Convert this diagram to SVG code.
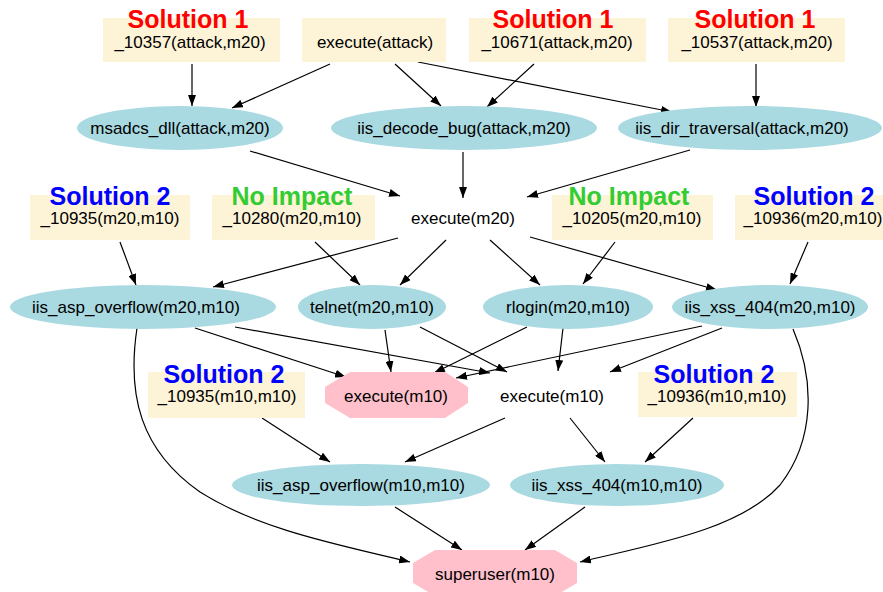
<svg xmlns="http://www.w3.org/2000/svg" width="883" height="592" viewBox="0 0 883 592">
<style>
text{font-family:"Liberation Sans",Arial,sans-serif;font-size:17px;fill:#000;text-anchor:middle}
.lbl{font-size:25px;font-weight:bold}
.red{fill:#ff0000}.blue{fill:#0000ff}.green{fill:#33cc33}
.box{fill:#fdf3d6;stroke:none}
.ell{fill:#a9d9e1;stroke:none}
.oct{fill:#ffc0cb;stroke:none}
.e{fill:none;stroke:#000;stroke-width:1.2;marker-end:url(#ah)}
</style>
<defs>
<marker id="ah" markerUnits="userSpaceOnUse" markerWidth="11" markerHeight="8" refX="11" refY="4" orient="auto">
<path d="M0,0 L11,4 L0,8 z" fill="#000"/>
</marker>
</defs>
<rect width="883" height="592" fill="#fff"/>
<g id="edges">
<path class="e" d="M192,64 L192,106"/>
<path class="e" d="M330,64 L232,108"/>
<path class="e" d="M395,64 L441,106"/>
<path class="e" d="M418,62 L672,112"/>
<path class="e" d="M534,64 L487,107"/>
<path class="e" d="M756,64 L756,107"/>
<path class="e" d="M250,151 L400,196"/>
<path class="e" d="M463,152 L463,198"/>
<path class="e" d="M690,150 L527,197"/>
<path class="e" d="M120,242 L136,285"/>
<path class="e" d="M398,238 L213,287"/>
<path class="e" d="M315,242 L360,285"/>
<path class="e" d="M446,240 L400,285"/>
<path class="e" d="M490,240 L540,285"/>
<path class="e" d="M615,242 L583,284"/>
<path class="e" d="M530,237 L717,290"/>
<path class="e" d="M808,242 L790,284"/>
<path class="e" d="M195,328 L346,377"/>
<path class="e" d="M235,327 L490,373"/>
<path class="e" d="M385,330 L391,372"/>
<path class="e" d="M420,327 L507,372"/>
<path class="e" d="M527,327 L434,373"/>
<path class="e" d="M563,328 L558,371"/>
<path class="e" d="M702,326 L456,378"/>
<path class="e" d="M722,328 L610,372"/>
<path class="e" d="M137,328 C127,395 140,450 200,492 C260,530 340,545 410,562"/>
<path class="e" d="M793,329 C815,380 815,440 780,485 C740,530 650,545 580,562"/>
<path class="e" d="M262,418 L330,462"/>
<path class="e" d="M505,418 L405,462"/>
<path class="e" d="M570,418 L605,462"/>
<path class="e" d="M693,418 L645,462"/>
<path class="e" d="M395,507 L462,550"/>
<path class="e" d="M585,507 L525,550"/>
</g>
<g id="n10357"><rect class="box" x="103" y="18" width="177" height="44"/><text x="190" y="48">_10357(attack,m20)</text></g>
<g id="execute_attack"><rect class="box" x="302" y="18" width="144" height="44"/><text x="375" y="48">execute(attack)</text></g>
<g id="n10671"><rect class="box" x="469" y="18" width="177" height="44"/><text x="557" y="48">_10671(attack,m20)</text></g>
<g id="n10537"><rect class="box" x="668" y="18" width="177" height="44"/><text x="757" y="48">_10537(attack,m20)</text></g>
<g id="msadcs"><ellipse class="ell" cx="180" cy="128" rx="103" ry="22"/><text x="180" y="134">msadcs_dll(attack,m20)</text></g>
<g id="iis_decode"><ellipse class="ell" cx="464" cy="128" rx="133" ry="22"/><text x="464" y="134">iis_decode_bug(attack,m20)</text></g>
<g id="iis_dir"><ellipse class="ell" cx="750" cy="128" rx="132" ry="22"/><text x="742" y="134">iis_dir_traversal(attack,m20)</text></g>
<g id="n10935a"><rect class="box" x="30" y="195" width="160" height="45"/><text x="110" y="224">_10935(m20,m10)</text></g>
<g id="n10280"><rect class="box" x="212" y="195" width="163" height="45"/><text x="292" y="224">_10280(m20,m10)</text></g>
<g id="execute_m20"><text x="463" y="224">execute(m20)</text></g>
<g id="n10205"><rect class="box" x="552" y="195" width="161" height="45"/><text x="632" y="224">_10205(m20,m10)</text></g>
<g id="n10936a"><rect class="box" x="735" y="195" width="150" height="45"/><text x="813" y="224">_10936(m20,m10)</text></g>
<g id="iis_asp_a"><ellipse class="ell" cx="143" cy="307" rx="133" ry="22"/><text x="136" y="313">iis_asp_overflow(m20,m10)</text></g>
<g id="telnet"><ellipse class="ell" cx="372" cy="307" rx="74" ry="22"/><text x="372" y="313">telnet(m20,m10)</text></g>
<g id="rlogin"><ellipse class="ell" cx="568" cy="307" rx="85" ry="22"/><text x="568" y="313">rlogin(m20,m10)</text></g>
<g id="iis_xss_a"><ellipse class="ell" cx="770" cy="307" rx="98" ry="22"/><text x="770" y="313">iis_xss_404(m20,m10)</text></g>
<g id="n10935b"><rect class="box" x="148" y="372" width="157" height="46"/><text x="227" y="402">_10935(m10,m10)</text></g>
<g id="execute_m10_pink"><polygon class="oct" points="350,372 445,372 468,387 468,403 445,418 350,418 325,403 325,387"/><text x="396" y="402">execute(m10)</text></g>
<g id="execute_m10"><text x="552" y="402">execute(m10)</text></g>
<g id="n10936b"><rect class="box" x="638" y="372" width="159" height="45"/><text x="717" y="402">_10936(m10,m10)</text></g>
<g id="iis_asp_b"><ellipse class="ell" cx="361" cy="485" rx="129" ry="21"/><text x="361" y="491">iis_asp_overflow(m10,m10)</text></g>
<g id="iis_xss_b"><ellipse class="ell" cx="617" cy="485" rx="107" ry="21"/><text x="617" y="491">iis_xss_404(m10,m10)</text></g>
<g id="superuser"><polygon class="oct" points="435,550 555,550 577,563 577,583 555,596 435,596 413,583 413,563"/><text x="495" y="580">superuser(m10)</text></g>
<g id="labels">
<text class="lbl red" x="188" y="28">Solution 1</text>
<text class="lbl red" x="553" y="28">Solution 1</text>
<text class="lbl red" x="755" y="28">Solution 1</text>
<text class="lbl blue" x="110" y="205">Solution 2</text>
<text class="lbl green" x="292" y="205">No Impact</text>
<text class="lbl green" x="629" y="205">No Impact</text>
<text class="lbl blue" x="814" y="205">Solution 2</text>
<text class="lbl blue" x="224" y="383">Solution 2</text>
<text class="lbl blue" x="714" y="383">Solution 2</text>
</g>
</svg>
